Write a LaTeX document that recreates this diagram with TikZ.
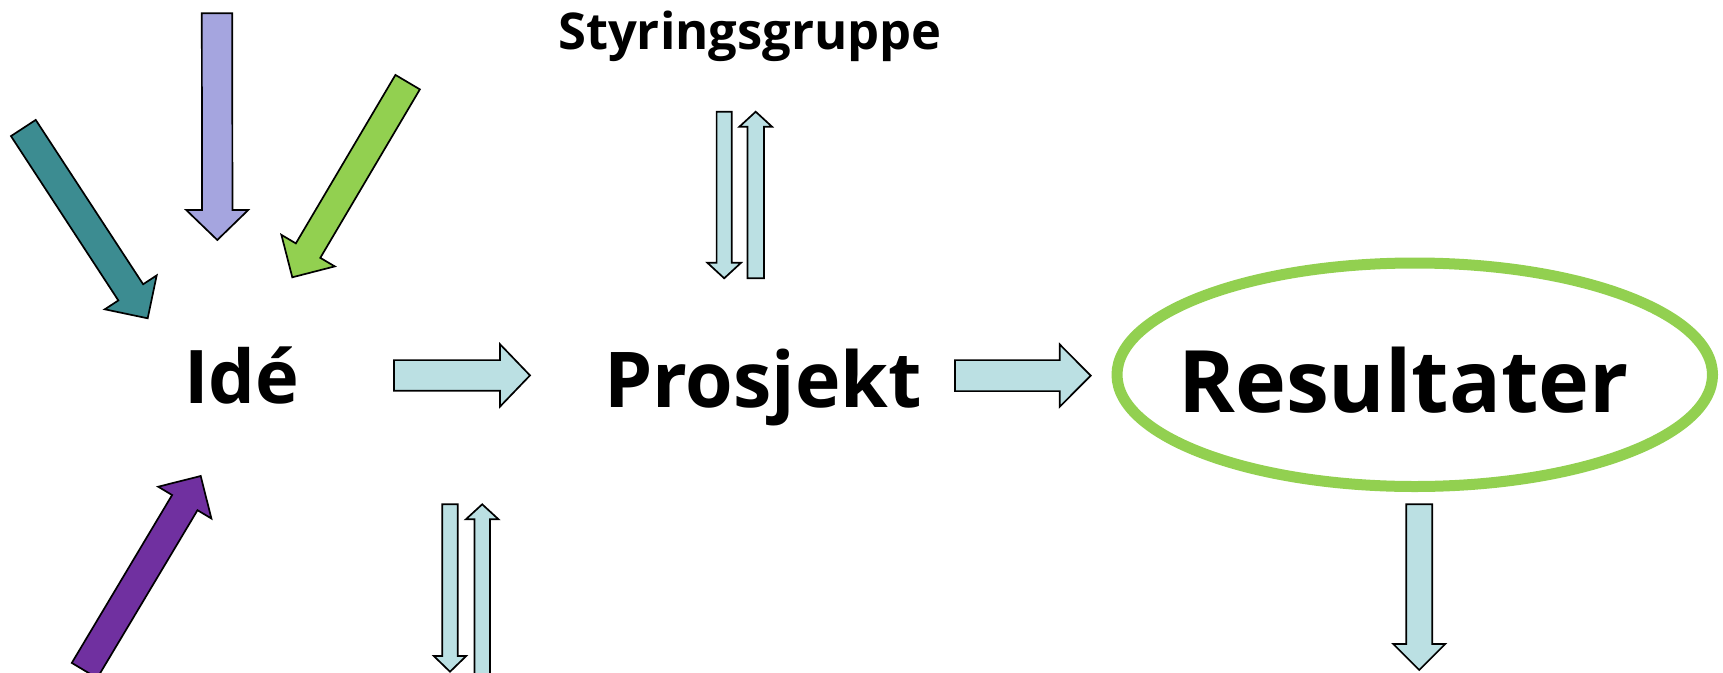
\documentclass[tikz,border=0pt]{standalone}
\usepackage{fontspec}
\setmainfont{Open Sans}
\usetikzlibrary{calc}
\definecolor{lav}{HTML}{A5A5DF}
\definecolor{tealc}{HTML}{3C8C91}
\definecolor{grn}{HTML}{92D050}
\definecolor{dpurp}{HTML}{7030A0}
\definecolor{lblue}{HTML}{BBE0E3}
\newcommand\blockarr[6]{%
  \draw[#1] ($(#2)!#4!90:(#3)$) -- ($($(#3)!#6!(#2)$)!#4!-90:(#2)$)
    -- ($($(#3)!#6!(#2)$)!#5!-90:(#2)$) -- (#3)
    -- ($($(#3)!#6!(#2)$)!#5!90:(#2)$) -- ($($(#3)!#6!(#2)$)!#4!90:(#2)$)
    -- ($(#2)!#4!-90:(#3)$) -- cycle;}
\tikzset{
  barrow/.style={draw=black, line width=1.7pt, line join=miter},
  label/.style={inner sep=0pt, anchor=base west, font=\bfseries},
}
\begin{document}
\begin{tikzpicture}[x=1pt,y=-1pt]
\useasboundingbox (0,0) rectangle (1723,672);
\clip (0,0) rectangle (1723,672);
% text nodes
\node[label, font=\bfseries\fontsize{74}{80}\selectfont] (ide) at (184,403.3) {Idé};
\node[label, font=\bfseries\fontsize{77}{80}\selectfont] (prosjekt) at (604,407.7) {Prosjekt};
\node[label, font=\bfseries\fontsize{86.2}{90}\selectfont] (res) at (1178,412.5) {Resultater};
\node[label, font=\bfseries\fontsize{50.7}{55}\selectfont] (styr) at (558,49.4) {Styringsgruppe};
% ellipse
\draw[grn, line width=11pt] (1414.75,374.75) ellipse [x radius=297.75, y radius=111.75];
% coordinates for arrows
\coordinate (a1t) at (217,13.3);   \coordinate (a1h) at (217.3,240);
\coordinate (a2t) at (23.35,128);  \coordinate (a2h) at (147.7,318.3);
\coordinate (a3t) at (407.65,82.15); \coordinate (a3h) at (292.3,277.3);
\coordinate (a4t) at (84.5,670.5); \coordinate (a4h) at (200.7,476);
\coordinate (r1t) at (394,375.4); \coordinate (r1h) at (530,375.4);
\coordinate (r2t) at (955,375.6); \coordinate (r2h) at (1090.7,375.6);
\coordinate (dt) at (1419.2,504.3); \coordinate (dh) at (1419.2,670);
\coordinate (s1t) at (724.2,111.7); \coordinate (s1h) at (724.2,278.3);
\coordinate (s2t) at (755.7,278.3); \coordinate (s2h) at (755.7,111.7);
\coordinate (b1t) at (450,504.3); \coordinate (b1h) at (450,671.7);
\coordinate (b2t) at (482.2,690); \coordinate (b2h) at (482.2,504.3);
% influence arrows
\blockarr{barrow, fill=lav}{a1t}{a1h}{15.2pt}{31pt}{30pt}
\blockarr{barrow, fill=tealc}{a2t}{a2h}{14.8pt}{31pt}{31pt}
\blockarr{barrow, fill=grn}{a3t}{a3h}{14.2pt}{31pt}{31pt}
\blockarr{barrow, fill=dpurp}{a4t}{a4h}{14.8pt}{31pt}{31pt}
% flow arrows
\blockarr{barrow, fill=lblue}{r1t}{r1h}{15.3pt}{31.2pt}{30pt}
\blockarr{barrow, fill=lblue}{r2t}{r2h}{15.5pt}{31.2pt}{31pt}
\blockarr{barrow, fill=lblue}{dt}{dh}{13pt}{26pt}{26pt}
% feedback pairs
\blockarr{barrow, fill=lblue}{s1t}{s1h}{7.6pt}{16.8pt}{15.5pt}
\blockarr{barrow, fill=lblue}{s2t}{s2h}{8.2pt}{16.3pt}{15pt}
\blockarr{barrow, fill=lblue}{b1t}{b1h}{7.7pt}{16.2pt}{15.7pt}
\blockarr{barrow, fill=lblue}{b2t}{b2h}{7.8pt}{16.3pt}{15pt}
\end{tikzpicture}
\end{document}
